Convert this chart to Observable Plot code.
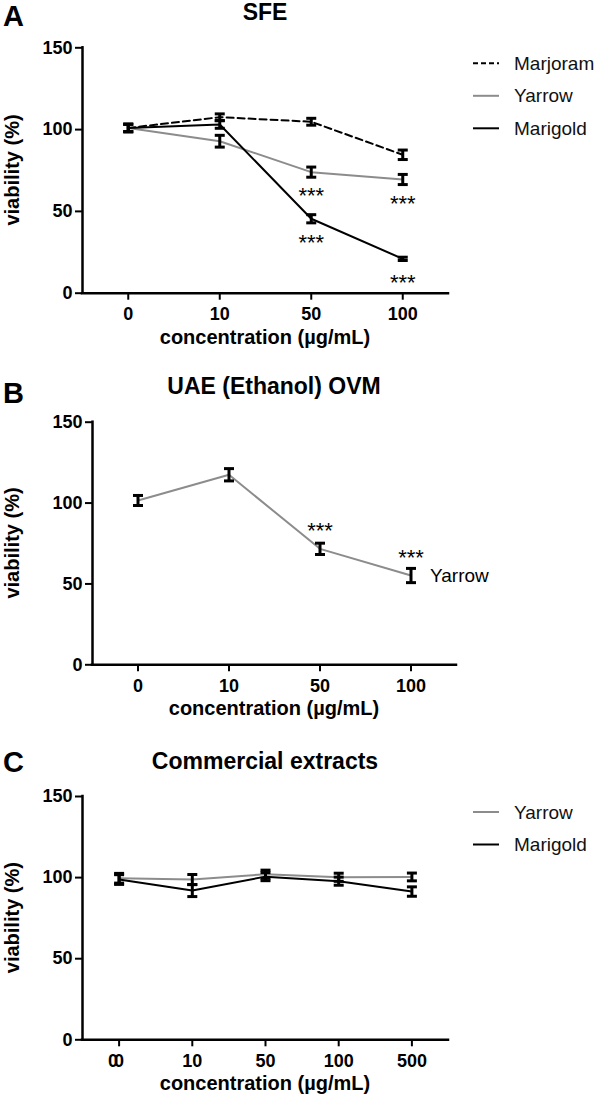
<!DOCTYPE html>
<html><head><meta charset="utf-8">
<script src="https://cdn.jsdelivr.net/npm/d3@7"></script>
<script src="https://cdn.jsdelivr.net/npm/@observablehq/plot@0.6"></script>
<style>
html,body{margin:0;padding:0;background:#fff;}
#root{position:relative;width:596px;height:1098px;overflow:hidden;font-family:"Liberation Sans",Arial,Helvetica,sans-serif;}
#root > svg{position:absolute;left:0;margin:0;}
g[aria-label$="axis tick"] path, g[aria-label$="axis tick"] line, .tick line{stroke-width:2px;}
</style></head>
<body><div id="root"></div>
<script>
// ---------- Panel A: SFE ----------
const concA = ["0", "10", "50", "100"];
const marjoramA = [101, 107.6, 104.8, 84.6];
const marjoramAErr = [2.3, 2.0, 2.1, 2.9];
const yarrowA = [101, 92.9, 74.0, 69.5];
const yarrowAErr = [2.3, 3.6, 3.1, 3.1];
const marigoldA = [101, 103.1, 45.5, 21.0];
const marigoldAErr = [2.3, 2.3, 2.5, 1.0];
const sigA = [["Yarrow", "50"], ["Yarrow", "100"], ["Marigold", "50"], ["Marigold", "100"]];

// ---------- Panel B: UAE (Ethanol) OVM ----------
const concB = ["0", "10", "50", "100"];
const yarrowB = [101.6, 117.5, 71.7, 55.2];
const yarrowBErr = [3.1, 3.8, 3.5, 4.4];
const sigB = [["Yarrow", "50"], ["Yarrow", "100"]];

// ---------- Panel C: Commercial extracts ----------
const concC = ["0", "10", "50", "100", "500"];
const yarrowC = [99.6, 98.8, 102.1, 100.2, 100.4];
const yarrowCErr = [3.0, 3.1, 2.5, 2.5, 2.4];
const marigoldC = [98.8, 92.0, 100.6, 97.8, 91.4];
const marigoldCErr = [3.0, 3.7, 2.5, 2.5, 2.9];

const titles = ["SFE", "UAE (Ethanol) OVM", "Commercial extracts"];
const letters = ["A", "B", "C"];
const yLabel = "viability (%)";
const xLabel = "concentration (µg/mL)";

const FONT = '"Liberation Sans", Arial, Helvetica, sans-serif';
const GRAY = "#8c8c8c";
const styles = {
  Marjoram: {stroke: "black", dash: "7,4"},
  Yarrow: {stroke: GRAY, dash: null},
  Marigold: {stroke: "black", dash: null}
};

function rows(conc, vals, errs, name) {
  return conc.map((c, i) => ({i, conc: c, v: vals[i], e: errs[i], name}));
}
const capSymbol = {draw(ctx, size) { const w = Math.sqrt(size / Math.PI); ctx.moveTo(-w, 0); ctx.lineTo(w, 0); }};

function seriesMarks(r) {
  const s = styles[r[0].name];
  return [
    Plot.line(r, {x: "i", y: "v", stroke: s.stroke, strokeWidth: 2, strokeDasharray: s.dash || undefined})
  ];
}
function errMarks(r) {
  return [
    Plot.ruleX(r, {x: "i", y1: d => d.v - d.e, y2: d => d.v + d.e, stroke: "black", strokeWidth: 3}),
    Plot.dot(r, {x: "i", y: d => d.v - d.e, symbol: capSymbol, r: 5, stroke: "black", strokeWidth: 3, fill: "none"}),
    Plot.dot(r, {x: "i", y: d => d.v + d.e, symbol: capSymbol, r: 5, stroke: "black", strokeWidth: 3, fill: "none"})
  ];
}
function sigRows(sig, all) {
  return sig.map(([name, c]) => all.find(d => d.name === name && d.conc === c));
}

const root = document.getElementById("root");
const panels = [];

function panel(cfg) {
  const {conc, series, extra, top, height, mt, mb, ml, mr} = cfg;
  const all = series.flat();
  const el = Plot.plot({
    width: 596, height, marginTop: mt, marginBottom: mb, marginLeft: ml, marginRight: mr,
    style: {fontFamily: FONT, fontSize: "18px", fontWeight: "bold", color: "black", background: "transparent", overflow: "visible"},
    x: {type: "linear", domain: [-0.5, conc.length - 0.5], ticks: conc.length, tickSize: 7, tickPadding: 7,
        tickFormat: i => (conc[Math.round(i)] ?? ""), label: null},
    y: {domain: [0, 150], ticks: 3, tickSize: 7, tickPadding: 3, label: null},
    marks: [
      ...series.flatMap(seriesMarks),
      ...series.flatMap(errMarks),
      Plot.ruleY([0], {stroke: "black", strokeWidth: 2.5, strokeLinecap: "square"}),
      Plot.ruleX([-0.5], {stroke: "black", strokeWidth: 2.5, strokeLinecap: "square"}),
      ...extra(all, conc)
    ]
  });
  el.style.top = top + "px";
  root.appendChild(el);
  panels.push({top, height, mt, mb, ml, mr, frameTop: top + mt, frameBottom: top + height - mb, cx: (ml + 596 - mr) / 2});
}

// A
panel({
  conc: concA,
  series: [rows(concA, marjoramA, marjoramAErr, "Marjoram"), rows(concA, yarrowA, yarrowAErr, "Yarrow"), rows(concA, marigoldA, marigoldAErr, "Marigold")],
  extra: (all) => [Plot.text(sigRows(sigA, all), {x: "i", y: "v", text: () => "***", dy: 24, fontSize: 22, fontWeight: "normal", lineAnchor: "middle"})],
  top: 0, height: 330, mt: 47.3, mb: 37.3, ml: 82, mr: 148
});
// B
panel({
  conc: concB,
  series: [rows(concB, yarrowB, yarrowBErr, "Yarrow")],
  extra: (all) => [
    Plot.text(sigRows(sigB, all), {x: "i", y: "v", text: () => "***", dy: -17.5, fontSize: 22, fontWeight: "normal", lineAnchor: "middle"}),
    Plot.text([all[all.length - 1]], {x: "i", y: "v", text: "name", dx: 19, textAnchor: "start", lineAnchor: "middle", fontSize: 19, fontWeight: "normal"})
  ],
  top: 360, height: 340, mt: 61.7, mb: 35.7, ml: 92, mr: 140
});
// C
panel({
  conc: concC,
  series: [rows(concC, yarrowC, yarrowCErr, "Yarrow"), rows(concC, marigoldC, marigoldCErr, "Marigold")],
  extra: (all, conc) => [
    Plot.text([{i: 0}], {x: "i", y: () => 0, text: () => conc[0], dy: 14, dx: -6, lineAnchor: "top", fontSize: 18})
  ],
  top: 750, height: 325, mt: 46, mb: 35.7, ml: 82, mr: 148
});

// ---------- overlay: panel letters, titles, axis labels, legends ----------
const NS = "http://www.w3.org/2000/svg";
const ov = document.createElementNS(NS, "svg");
ov.setAttribute("width", 596); ov.setAttribute("height", 1098);
ov.setAttribute("style", "position:absolute;left:0;top:0;pointer-events:none;");
ov.setAttribute("font-family", FONT);
root.appendChild(ov);
function txt(s, x, y, o = {}) {
  const t = document.createElementNS(NS, "text");
  t.textContent = s;
  t.setAttribute("x", x); t.setAttribute("y", y);
  t.setAttribute("font-size", o.size || 17);
  t.setAttribute("font-weight", o.weight || "bold");
  t.setAttribute("text-anchor", o.anchor || "start");
  t.setAttribute("fill", o.fill || "black");
  if (o.transform) t.setAttribute("transform", o.transform);
  ov.appendChild(t);
}
function ln(x1, y, x2, stroke, dash) {
  const l = document.createElementNS(NS, "line");
  l.setAttribute("x1", x1); l.setAttribute("x2", x2); l.setAttribute("y1", y); l.setAttribute("y2", y);
  l.setAttribute("stroke", stroke); l.setAttribute("stroke-width", 2);
  if (dash) l.setAttribute("stroke-dasharray", dash);
  ov.appendChild(l);
}
const letterY = [26, 403, 772];
panels.forEach((p, k) => {
  txt(letters[k], 3, letterY[k], {size: 29});
  txt(titles[k], p.cx, p.frameTop - 27.3, {size: 23, anchor: "middle"});
  const my = (p.frameTop + p.frameBottom) / 2;
  txt(yLabel, 0, 0, {size: 20, anchor: "middle", transform: `translate(19,${my}) rotate(-90)`});
  txt(xLabel, p.cx, p.frameBottom + 51, {size: 20, anchor: "middle"});
});
function legend(p, names) {
  names.forEach((n, k) => {
    const y = p.frameTop + 16 + k * 32.5;
    const s = styles[n];
    ln(473, y, 499, s.stroke, s.dash ? "5,3" : null);
    txt(n, 514, y + 6.5, {size: 19, weight: "normal", fill: "#111"});
  });
}
legend(panels[0], ["Marjoram", "Yarrow", "Marigold"]);
legend(panels[2], ["Yarrow", "Marigold"]);
</script>
</body></html>
